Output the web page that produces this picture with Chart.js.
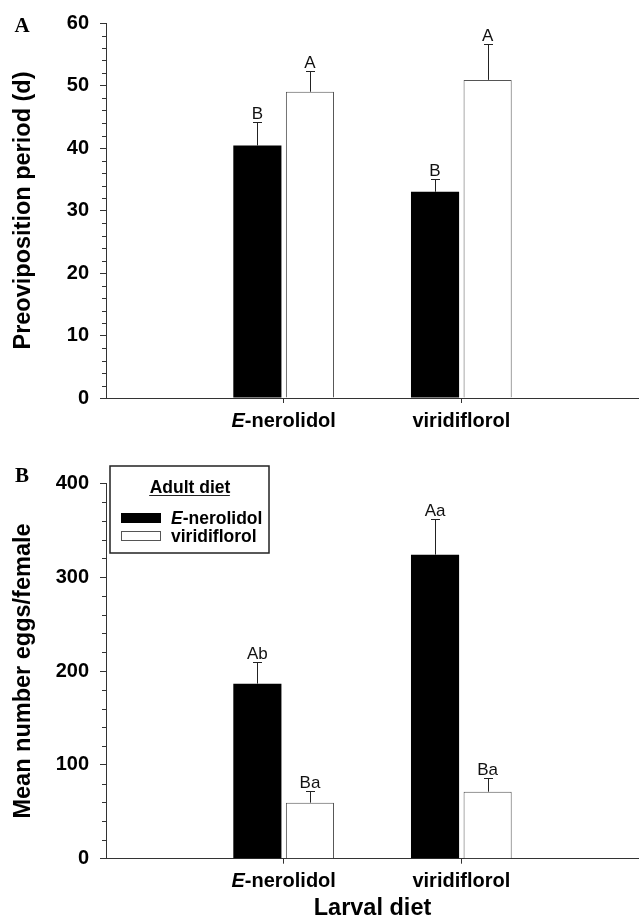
<!DOCTYPE html>
<html>
<head>
<meta charset="utf-8">
<script src="https://cdn.jsdelivr.net/npm/chart.js@4.4.0/dist/chart.umd.min.js"></script>
<style>
  html, body { margin: 0; padding: 0; background: #fff; overflow: hidden; }
  #wrapA { position: absolute; left: 0; top: 0; }
  #wrapB { position: absolute; left: 0; top: 440px; }
</style>
</head>
<body>
<div id="wrapA"><canvas id="chartA" width="639" height="440"></canvas></div>
<div id="wrapB"><canvas id="chartB" width="639" height="480"></canvas></div>
<script>
(() => {
  'use strict'

  const SANS = "'Liberation Sans', Arial, sans-serif"
  const SERIF = "'Liberation Serif', 'Times New Roman', serif"

  // categories
  const larvalDiet = ['E-nerolidol', 'viridiflorol']
  const adultDiet = ['E-nerolidol', 'viridiflorol']

  // A: preoviposition period (d)
  const preovNerolidol = [40.4, 33.0]
  const preovViridiflorol = [49.0, 50.9]
  const preovErrNerolidol = [3.8, 2.0]
  const preovErrViridiflorol = [3.3, 5.7]
  const preovLetNerolidol = ['B', 'B']
  const preovLetViridiflorol = ['A', 'A']
  const preovTickLabels = [0, 10, 20, 30, 40, 50, 60]
  const preovMinorStep = 2

  // B: mean number eggs/female
  const eggsNerolidol = [186.5, 324.0]
  const eggsViridiflorol = [59.7, 71.4]
  const eggsErrNerolidol = [22.8, 37.7]
  const eggsErrViridiflorol = [12.4, 14.3]
  const eggsLetNerolidol = ['Ab', 'Aa']
  const eggsLetViridiflorol = ['Ba', 'Ba']
  const eggsTickLabels = [0, 100, 200, 300, 400]
  const eggsMinorStep = 20

  // empty slots on both ends put the two groups at 1/3 and 2/3 of the axis
  const pad = arr => [null, ...arr, null]
  const xLabels = ['', ...larvalDiet, '']

  // "E-" prefix is set in italics
  function labelParts (text) {
    if (text.startsWith('E-')) return [{ t: 'E', it: true }, { t: text.slice(1), it: false }]
    return [{ t: text, it: false }]
  }

  function drawParts (ctx, text, x, y, size, align) {
    const parts = labelParts(text)
    const font = it => (it ? 'italic ' : '') + 'bold ' + size + 'px ' + SANS
    let w = 0
    parts.forEach(p => { ctx.font = font(p.it); p.w = ctx.measureText(p.t).width; w += p.w })
    let cx = align === 'center' ? x - w / 2 : x
    ctx.textAlign = 'left'
    parts.forEach(p => { ctx.font = font(p.it); ctx.fillText(p.t, cx, y); cx += p.w })
  }

  function figurePlugin (opt) {
    return {
      id: 'figure',
      afterDraw (chart) {
        const { ctx, chartArea, scales: { x, y } } = chart
        ctx.save()

        // minor ticks on the y axis
        ctx.strokeStyle = '#333'
        ctx.lineWidth = 1
        ctx.beginPath()
        for (let v = 0; v <= y.max; v += opt.minor) {
          if (v % opt.major === 0) continue
          const py = Math.round(y.getPixelForValue(v)) + 0.5
          ctx.moveTo(chartArea.left - 4, py)
          ctx.lineTo(chartArea.left, py)
        }
        ctx.stroke()

        // category labels
        ctx.fillStyle = '#000'
        ctx.textBaseline = 'alphabetic'
        x.getLabels().forEach((lab, i) => {
          if (lab) drawParts(ctx, lab, x.getPixelForTick(i), chartArea.bottom + 28.5, 20, 'center')
        })

        // error bars and letters
        chart.data.datasets.forEach((ds, di) => {
          const meta = chart.getDatasetMeta(di)
          meta.data.forEach((bar, i) => {
            const v = ds.data[i]
            if (v == null) return
            const top = Math.round(y.getPixelForValue(v + ds.errors[i])) + 0.5
            const bx = Math.round(bar.x) + 0.5
            ctx.strokeStyle = '#222'
            ctx.lineWidth = 1
            ctx.beginPath()
            ctx.moveTo(bx, bar.y)
            ctx.lineTo(bx, top)
            ctx.moveTo(bx - 4.5, top)
            ctx.lineTo(bx + 4.5, top)
            ctx.stroke()
            ctx.font = '17px ' + SANS
            ctx.textAlign = 'center'
            ctx.fillStyle = '#111'
            ctx.fillText(ds.letters[i], bar.x, top - 4)
          })
        })

        // panel letter
        ctx.font = 'bold 21px ' + SERIF
        ctx.fillStyle = '#000'
        ctx.textAlign = 'center'
        ctx.fillText(opt.panel, 22, opt.panelY)

        // legend box
        if (opt.legend) {
          const L = opt.legend
          ctx.strokeStyle = '#222'
          ctx.lineWidth = 1.5
          ctx.fillStyle = '#fff'
          ctx.fillRect(L.x, L.y, L.w, L.h)
          ctx.strokeRect(L.x, L.y, L.w, L.h)
          ctx.fillStyle = '#000'
          ctx.font = 'bold 17.5px ' + SANS
          ctx.textAlign = 'center'
          ctx.fillText(L.title, L.x + L.w / 2 + 0.5, L.y + 27)
          const tw = ctx.measureText(L.title).width
          ctx.lineWidth = 1.2
          ctx.beginPath()
          ctx.moveTo(L.x + L.w / 2 - tw / 2, L.y + 29.5)
          ctx.lineTo(L.x + L.w / 2 + tw / 2, L.y + 29.5)
          ctx.stroke()
          chart.data.datasets.forEach((ds, i) => {
            const ry = L.y + 47 + i * 18
            ctx.fillStyle = ds.backgroundColor
            ctx.fillRect(L.x + 11, ry, 40, 10)
            ctx.strokeStyle = ds.borderColor
            ctx.lineWidth = 1
            ctx.strokeRect(L.x + 11.5, ry + 0.5, 39, 9)
            ctx.fillStyle = '#000'
            drawParts(ctx, ds.label, L.x + 61, ry + 10.5, 17.5, 'left')
          })
        }
        ctx.restore()
      }
    }
  }

  function makeChart (id, cfg) {
    const datasets = [
      {
        label: adultDiet[0],
        data: pad(cfg.black),
        errors: pad(cfg.blackErr),
        letters: pad(cfg.blackLet),
        backgroundColor: '#000',
        borderColor: '#000',
        borderWidth: 0
      },
      {
        label: adultDiet[1],
        data: pad(cfg.white),
        errors: pad(cfg.whiteErr),
        letters: pad(cfg.whiteLet),
        backgroundColor: '#fff',
        borderColor: '#555',
        borderWidth: 1
      }
    ]
    const ticks = cfg.tickLabels
    return new Chart(document.getElementById(id), {
      type: 'bar',
      data: { labels: xLabels, datasets: datasets },
      options: {
        responsive: false,
        animation: false,
        events: [],
        categoryPercentage: 0.592,
        barPercentage: 0.915,
        layout: { padding: { top: cfg.top, right: 0, bottom: 0, left: 0 } },
        plugins: { legend: { display: false }, tooltip: { enabled: false } },
        scales: {
          x: {
            type: 'category',
            offset: false,
            afterFit: s => { s.height = cfg.xHeight },
            ticks: { display: false },
            grid: {
              offset: false,
              drawOnChartArea: false,
              tickLength: 5,
              color: c => (c.index === 0 || c.index === xLabels.length - 1) ? 'rgba(0,0,0,0)' : '#333'
            },
            border: { color: '#333', width: 1 },
            title: {
              display: !!cfg.xTitle,
              text: cfg.xTitle || '',
              color: '#000',
              font: { family: SANS, size: 23.5, weight: 'bold', lineHeight: 1 },
              padding: 0
            }
          },
          y: {
            min: 0,
            max: ticks[ticks.length - 1],
            afterFit: s => { s.width = 106 },
            ticks: {
              stepSize: ticks[1] - ticks[0],
              color: '#000',
              padding: 11,
              font: { family: SANS, size: 20, weight: 'bold' }
            },
            grid: { drawOnChartArea: false, tickLength: 6, color: '#333' },
            border: { color: '#333', width: 1 },
            title: {
              display: true,
              text: cfg.yTitle,
              color: '#000',
              font: { family: SANS, size: 23.5, weight: 'bold' },
              padding: { top: 9, bottom: 0 }
            }
          }
        }
      },
      plugins: [figurePlugin({
        minor: cfg.minor,
        major: ticks[1] - ticks[0],
        panel: cfg.panel,
        panelY: cfg.panelY,
        legend: cfg.legend
      })]
    })
  }

  makeChart('chartA', {
    black: preovNerolidol,
    white: preovViridiflorol,
    blackErr: preovErrNerolidol,
    whiteErr: preovErrViridiflorol,
    blackLet: preovLetNerolidol,
    whiteLet: preovLetViridiflorol,
    tickLabels: preovTickLabels,
    minor: preovMinorStep,
    top: 23,
    xHeight: 42,
    yTitle: 'Preoviposition period (d)',
    panel: 'A',
    panelY: 32
  })

  makeChart('chartB', {
    black: eggsNerolidol,
    white: eggsViridiflorol,
    blackErr: eggsErrNerolidol,
    whiteErr: eggsErrViridiflorol,
    blackLet: eggsLetNerolidol,
    whiteLet: eggsLetViridiflorol,
    tickLabels: eggsTickLabels,
    minor: eggsMinorStep,
    top: 43.3,
    xHeight: 61.3,
    xTitle: 'Larval diet',
    yTitle: 'Mean number eggs/female',
    panel: 'B',
    panelY: 42,
    legend: { x: 110, y: 26, w: 159, h: 87, title: 'Adult diet' }
  })
})()
</script>
</body>
</html>
